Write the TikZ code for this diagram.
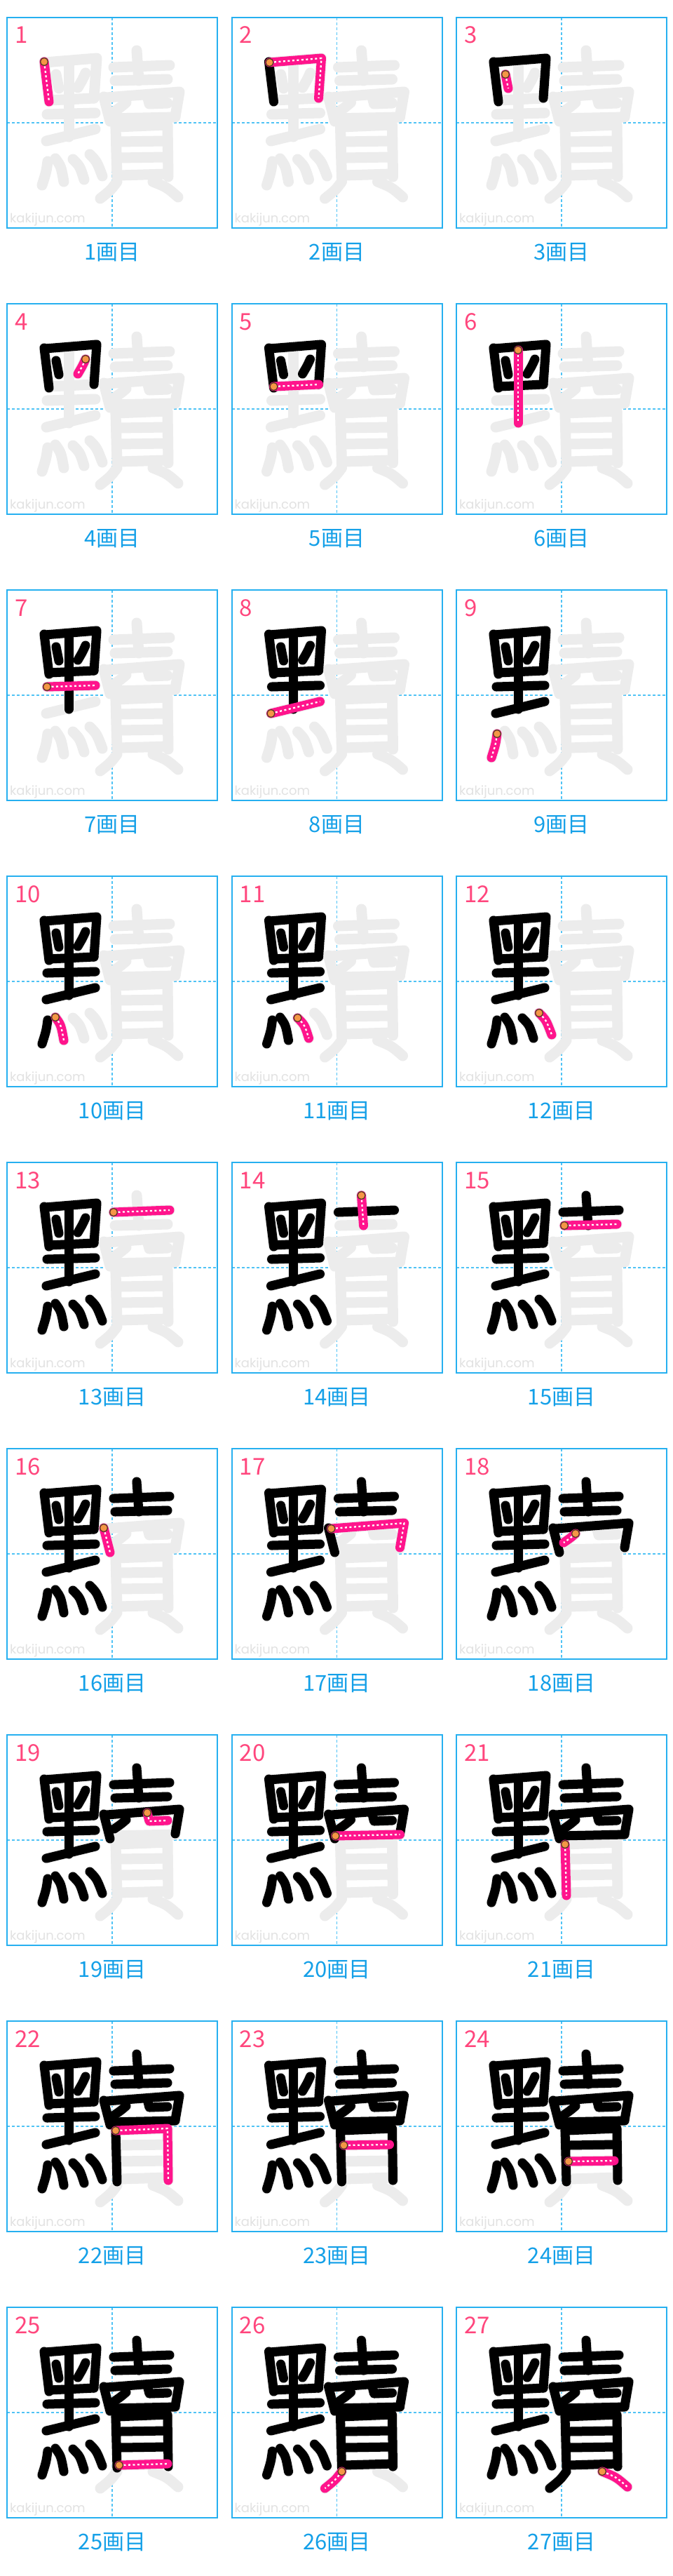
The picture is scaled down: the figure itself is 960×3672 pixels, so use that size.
\documentclass[tikz,border=0pt]{standalone}
\usepackage{fontspec}
\newfontfamily\cjk{Noto Sans CJK JP}
\newfontfamily\wmfont{Poppins}
\definecolor{boxc}{RGB}{38,176,240}
\definecolor{gridc}{RGB}{80,195,245}
\definecolor{capc}{RGB}{20,160,232}
\definecolor{numc}{RGB}{255,70,125}
\definecolor{pinkc}{RGB}{255,20,140}
\definecolor{orangec}{RGB}{245,150,70}
\definecolor{bordc}{RGB}{90,60,40}
\definecolor{ghostc}{RGB}{236,236,236}
\definecolor{wmc}{RGB}{226,226,226}
\newcommand\defstk[2]{\expandafter\def\csname stk#1\endcsname{#2}}
% strokes of the character, local coordinates of a 300x300 box (y downward)
\defstk{1}{(53,63) coordinate (st) -- (60,120)}
\defstk{2}{(54,64) coordinate (st) -- (128,58) -- (124,115)}
\defstk{3}{(70,81) coordinate (st) -- (74,101)}
\defstk{4}{(112,79) coordinate (st) .. controls (108,88) .. (101,100)}
\defstk{5}{(60,118) coordinate (st) -- (124,115)}
\defstk{6}{(88,66) coordinate (st) -- (88,170)}
\defstk{7}{(57,138) coordinate (st) -- (126,136)}
\defstk{8}{(56,176) coordinate (st) -- (126,159)}
\defstk{9}{(58,205) coordinate (st) .. controls (56,220) .. (50,239)}
\defstk{10}{(69,201) coordinate (st) .. controls (77,212) .. (81,234)}
\defstk{11}{(94,202) coordinate (st) .. controls (104,212) .. (110,231)}
\defstk{12}{(118,195) coordinate (st) .. controls (128,205) .. (136,226)}
\defstk{13}{(152,71) coordinate (st) -- (232,68)}
\defstk{14}{(185,47) coordinate (st) -- (188,90)}
\defstk{15}{(154,90) coordinate (st) -- (229,88)}
\defstk{16}{(138,113) coordinate (st) -- (147,148)}
\defstk{17}{(142,114) coordinate (st) -- (246,106) -- (240,141)}
\defstk{18}{(170,121) coordinate (st) .. controls (163,127) .. (153,134)}
\defstk{19}{(200,111) coordinate (st) -- (203,123) -- (229,122)}
\defstk{20}{(148,144) coordinate (st) -- (240,142)}
\defstk{21}{(155,156) coordinate (st) -- (157,229)}
\defstk{22}{(155,156) coordinate (st) -- (229,153) -- (230,227)}
\defstk{23}{(160,177) coordinate (st) -- (225,176)}
\defstk{24}{(160,200) coordinate (st) -- (225,199)}
\defstk{25}{(160,225) coordinate (st) -- (229,223)}
\defstk{26}{(157,234) coordinate (st) .. controls (148,246) .. (133,258)}
\defstk{27}{(208,234) coordinate (st) .. controls (228,242) .. (244,256)}
\tikzset{
  boxst/.style={draw=boxc, line width=2pt},
  gridst/.style={draw=gridc, line width=1.5pt, dash pattern=on 4pt off 3pt},
  ghost/.style={draw=ghostc, line width=15pt, line cap=round, line join=round},
  done/.style={draw=black, line width=13pt, line cap=round, line join=round},
  curst/.style={draw=pinkc, line width=13pt, line cap=round, line join=round},
  dotst/.style={draw=white, line width=2.3pt, dash pattern=on 3pt off 3.5pt, line join=round},
  startdot/.style={fill=orangec, draw=bordc, line width=1.3pt},
  numst/.style={text=numc, font=\cjk\fontsize{33}{33}\selectfont, inner sep=0pt},
  capst/.style={text=capc, font=\cjk\fontsize{31}{31}\selectfont, inner sep=0pt},
  wmst/.style={text=wmc, font=\wmfont\fontsize{18}{18}\selectfont, inner sep=0pt}
}
\begin{document}
\begin{tikzpicture}[x=1pt,y=-1pt]
\fill[white] (0,0) rectangle (960,3672);
\useasboundingbox (0,0) rectangle (960,3672);
\foreach \n in {1,...,27}{
  \pgfmathtruncatemacro\col{mod(\n-1,3)}
  \pgfmathtruncatemacro\row{floor((\n-1)/3)}
  \pgfmathtruncatemacro\m{\n-1}
  \begin{scope}[shift={({10+320.5*\col},{25+408*\row})}]
    \draw[gridst] (150,0) -- (150,300);
    \draw[gridst] (0,150) -- (300,150);
    \node[wmst, anchor=base west] (wm\n) at (4,292) {kakijun.com};
    \foreach \k in {1,...,27}{%
      \expandafter\let\expandafter\cp\csname stk\k\endcsname
      \draw[ghost] \cp;
    }
    \ifnum\n>1
      \foreach \k in {1,...,\m}{%
        \expandafter\let\expandafter\cp\csname stk\k\endcsname
        \draw[done] \cp;
      }
    \fi
    \expandafter\let\expandafter\cp\csname stk\n\endcsname
    \draw[curst] \cp;
    \draw[dotst] \cp;
    \filldraw[startdot] (st) circle[radius=5.5];
    \draw[boxst] (0,0) rectangle (300,300);
    \node[numst, anchor=base west] (num\n) at (11,37) {\n};
    \node[capst, anchor=base] (cap\n) at (150,345) {\n{}画目};
  \end{scope}
}
\end{tikzpicture}
\end{document}
